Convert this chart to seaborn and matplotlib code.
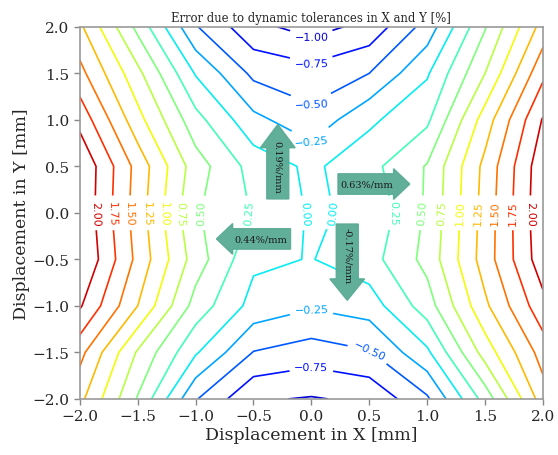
import numpy as np
import matplotlib
matplotlib.use("Agg")
import matplotlib.pyplot as plt
import seaborn as sns

# grid coordinates (mm)
x_mm = [-2.0, -1.5, -1.0, -0.5, 0.0, 0.5, 1.0, 1.5, 2.0]
y_mm = [-2.0, -1.5, -1.0, -0.5, 0.0, 0.5, 1.0, 1.5, 2.0]

# error [%] per row (y = -2 ... 2)
err_y_m20 = [1.32, 0.48, -0.48, -0.97, -1.02, -0.95, -0.54, 0.35, 1.38]
err_y_m15 = [1.58, 0.72, 0.03, -0.51, -0.62, -0.52, -0.05, 0.86, 1.61]
err_y_m10 = [2.03, 1.25, 0.40, -0.09, -0.22, -0.13, 0.38, 1.20, 1.92]
err_y_m05 = [2.27, 1.43, 0.63, 0.05, -0.01, 0.15, 0.58, 1.37, 2.15]
err_y_000 = [2.22, 1.38, 0.53, 0.23, -0.03, 0.05, 0.54, 1.35, 2.19]
err_y_p05 = [2.23, 1.41, 0.62, 0.15, -0.05, 0.17, 0.52, 1.32, 2.17]
err_y_p10 = [1.92, 1.09, 0.34, -0.18, -0.42, -0.05, 0.20, 1.12, 2.02]
err_y_p15 = [1.58, 0.82, -0.02, -0.56, -0.65, -0.50, -0.03, 0.75, 1.69]
err_y_p20 = [1.30, 0.43, -0.48, -0.93, -1.10, -0.92, -0.40, 0.48, 1.35]

levels = [-1.0, -0.75, -0.5, -0.25, 0.0, 0.25, 0.5, 0.75, 1.0, 1.25, 1.5, 1.75, 2.0]

# gradient annotations
arrow_texts = ["0.19%/mm", "0.63%/mm", "0.44%/mm", "-0.17%/mm"]

sns.set_style("white")
plt.rcParams['font.family'] = ['DejaVu Serif']

Z = np.array([err_y_m20, err_y_m15, err_y_m10, err_y_m05, err_y_000,
              err_y_p05, err_y_p10, err_y_p15, err_y_p20])
X, Y = np.meshgrid(x_mm, y_mm)

fig = plt.figure(figsize=(5.58, 4.56), dpi=100)
ax = fig.add_axes([0.143, 0.123, 0.830, 0.816])

cs = ax.contour(X, Y, Z, levels=levels, cmap="jet", vmin=-1.25, vmax=2.25,
                linewidths=1.2)
lbls = ax.clabel(cs, inline=True, fontsize=8,
                 fmt=lambda v: f"{v:.2f}".replace("-", "\u2212"))
for t in lbls:
    t.set_fontfamily("DejaVu Sans")

arrow_kw = dict(fc="#5aab94", ec="#5aab94", alpha=0.95, length_includes_head=True, zorder=5)
# up arrow
ax.arrow(-0.29, 0.15, 0, 0.80, width=0.19, head_width=0.30, head_length=0.25, **arrow_kw)
ax.text(-0.29, 0.50, arrow_texts[0], rotation=-90, ha="center", va="center",
        fontsize=7, color="#1a1a1a", zorder=6)
# right arrow
ax.arrow(0.23, 0.31, 0.62, 0, width=0.22, head_width=0.33, head_length=0.14, **arrow_kw)
ax.text(0.48, 0.31, arrow_texts[1], ha="center", va="center",
        fontsize=7, color="#1a1a1a", zorder=6)
# left arrow
ax.arrow(-0.18, -0.28, -0.64, 0, width=0.22, head_width=0.33, head_length=0.14, **arrow_kw)
ax.text(-0.44, -0.28, arrow_texts[2], ha="center", va="center",
        fontsize=7, color="#1a1a1a", zorder=6)
# down arrow
ax.arrow(0.31, -0.12, 0, -0.82, width=0.19, head_width=0.30, head_length=0.23, **arrow_kw)
ax.text(0.31, -0.45, arrow_texts[3], rotation=-90, ha="center", va="center",
        fontsize=7, color="#1a1a1a", zorder=6)

ax.set_xlim(-2, 2)
ax.set_ylim(-2, 2)
ax.set_xticks([-2.0, -1.5, -1.0, -0.5, 0.0, 0.5, 1.0, 1.5, 2.0])
ax.set_yticks([-2.0, -1.5, -1.0, -0.5, 0.0, 0.5, 1.0, 1.5, 2.0])
ax.tick_params(axis="both", labelsize=11, direction="out", length=4, width=1,
               color="#888888", bottom=True, left=True)
for s in ax.spines.values():
    s.set_color("#999999")
    s.set_linewidth(1.2)
ax.set_xlabel("Displacement in X [mm]", fontsize=12.5, labelpad=2)
ax.set_ylabel("Displacement in Y [mm]", fontsize=12.5, labelpad=2)
ax.set_title("Error due to dynamic tolerances in X and Y [%]", fontsize=8.4, pad=4)

fig.savefig("out.png", dpi=100)
